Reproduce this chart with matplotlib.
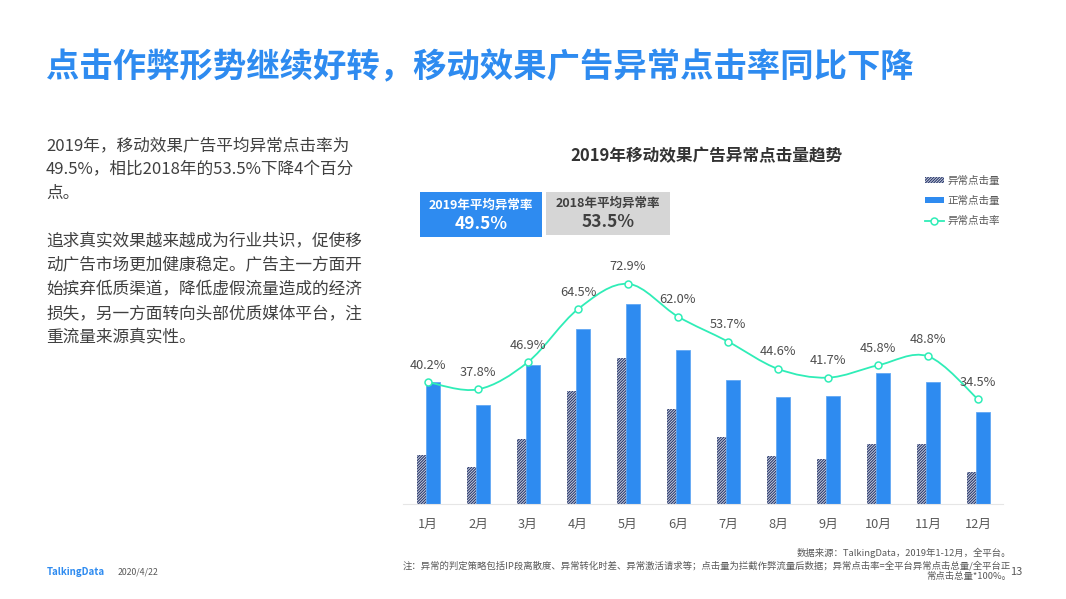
import numpy as np
import matplotlib
matplotlib.use('Agg')
import matplotlib.pyplot as plt
from matplotlib.lines import Line2D
from matplotlib.patches import PathPatch, Patch, Rectangle
from matplotlib.path import Path

plt.rcParams['font.family'] = ['Noto Sans CJK SC', 'DejaVu Sans']
plt.rcParams['hatch.linewidth'] = 0.7

months = ['1月', '2月', '3月', '4月', '5月', '6月', '7月', '8月', '9月', '10月', '11月', '12月']
# click counts have no printed scale, values are read off the bar heights
abnormal_clicks = [49, 37.3, 65.3, 112.7, 146, 95.3, 66.7, 48, 45, 59.7, 59.7, 31.7]
normal_clicks = [121.7, 99, 139, 174.7, 200.3, 154, 124, 107.3, 108, 130.7, 122.3, 91.7]
abnormal_rate = [40.2, 37.8, 46.9, 64.5, 72.9, 62.0, 53.7, 44.6, 41.7, 45.8, 48.8, 34.5]

left_text = [
    (150, '2019年，移动效果广告平均异常点击率为'),
    (174, '49.5%，相比2018年的53.5%下降4个百分'),
    (198, '点。'),
    (246, '追求真实效果越来越成为行业共识，促使移'),
    (270, '动广告市场更加健康稳定。广告主一方面开'),
    (294, '始摈弃低质渠道，降低虚假流量造成的经济'),
    (318, '损失，另一方面转向头部优质媒体平台，注'),
    (342, '重流量来源真实性。'),
]
notes = [
    (556, '数据来源：TalkingData，2019年1-12月，全平台。'),
    (568, '注：异常的判定策略包括IP段离散度、异常转化时差、异常激活请求等；点击量为拦截作弊流量后数据；异常点击率=全平台异常点击总量/全平台正'),
    (579, '常点击总量*100%。'),
]

W, H = 1066, 599
BLUE = '#2E8BF0'
MINT = '#2FEDB7'
GRAY = '#595959'


def put_text(px, py, s, **kw):
    kw.setdefault('va', 'baseline')
    return fig.text(px / W, 1 - py / H, s, **kw)


def smooth_path(x, y):
    # Catmull-Rom as bezier, same look as the smoothed office line
    x = np.array(x, dtype=float)
    y = np.array(y, dtype=float)
    verts = [(x[0], y[0])]
    codes = [Path.MOVETO]
    for i in range(len(x) - 1):
        i0 = max(i - 1, 0)
        i3 = min(i + 2, len(x) - 1)
        verts.append((x[i] + (x[i + 1] - x[i0]) / 6, y[i] + (y[i + 1] - y[i0]) / 6))
        verts.append((x[i + 1] - (x[i3] - x[i]) / 6, y[i + 1] - (y[i3] - y[i]) / 6))
        verts.append((x[i + 1], y[i + 1]))
        codes += [Path.CURVE4] * 3
    return Path(verts, codes)


fig = plt.figure(figsize=(W / 100, H / 100), dpi=100, facecolor='white')

put_text(46, 77, '点击作弊形势继续好转，移动效果广告异常点击率同比下降',
         fontsize=24, fontweight='bold', color=BLUE)
for py, line in left_text:
    put_text(46, py, line, fontsize=12, color='#404040')

put_text(706, 161, '2019年移动效果广告异常点击量趋势', fontsize=12, fontweight='bold',
         color='#333333', ha='center')

# the two average boxes
fig.patches.append(Rectangle((420 / W, 1 - 237 / H), 122 / W, 45 / H, transform=fig.transFigure,
                             facecolor=BLUE, edgecolor='none'))
fig.patches.append(Rectangle((546 / W, 1 - 235 / H), 124 / W, 43 / H, transform=fig.transFigure,
                             facecolor='#D6D6D6', edgecolor='none'))
put_text(481, 209, '2019年平均异常率', fontsize=9, fontweight='bold', color='white', ha='center')
put_text(481, 229, '49.5%', fontsize=12.5, fontweight='bold', color='white', ha='center')
put_text(608, 207, '2018年平均异常率', fontsize=9, fontweight='bold', color='#404040', ha='center')
put_text(608, 227, '53.5%', fontsize=12.5, fontweight='bold', color='#404040', ha='center')

ax = fig.add_axes([403 / W, 1 - 504 / H, 600 / W, 250 / H])
ax.patch.set_alpha(0)
x = np.arange(len(months))
ax.bar(x - 0.079, abnormal_clicks, width=0.27, facecolor='#C9CEDC', edgecolor='#1F2F66',
       hatch='////////////', linewidth=0)
ax.bar(x + 0.103, normal_clicks, width=0.274, color=BLUE, edgecolor='#62A8F4', linewidth=0.6)
ax.set_xlim(-0.5, 11.5)
ax.set_ylim(0, 250)
ax.set_xticks(x, months)
ax.set_yticks([])
ax.tick_params(axis='x', length=0, pad=10, labelsize=9.2, labelcolor=GRAY)
for name in ['top', 'left', 'right']:
    ax.spines[name].set_visible(False)
ax.spines['bottom'].set_color('#E6E6E6')
ax.spines['bottom'].set_linewidth(0.8)

ax2 = ax.twinx()
ax2.set_ylim(-0.333, 82.83)
ax2.set_yticks([])
for name in ax2.spines:
    ax2.spines[name].set_visible(False)
ax2.add_patch(PathPatch(smooth_path(x, abnormal_rate), facecolor='none', edgecolor=MINT, linewidth=1.3))
ax2.plot(x, abnormal_rate, linestyle='none', marker='o', markersize=5, markerfacecolor='white',
         markeredgecolor=MINT, markeredgewidth=1.1)
for xi, rate in zip(x, abnormal_rate):
    ax2.annotate(f'{rate:.1f}%', (xi, rate), xytext=(0, 12.2), textcoords='offset points',
                 ha='center', va='center', fontsize=9.2, color='#4D4D4D')

handles = [
    Patch(facecolor='#C9CEDC', edgecolor='#1F2F66', hatch='////////////', linewidth=0),
    Patch(facecolor=BLUE, edgecolor='none'),
    Line2D([], [], color=MINT, linewidth=1.3, marker='o', markersize=5, markerfacecolor='white',
           markeredgecolor=MINT, markeredgewidth=1.1),
]
fig.legend(handles, ['异常点击量', '正常点击量', '异常点击率'], loc='center left',
           bbox_to_anchor=(915 / W, 1 - 201 / H), frameon=False, fontsize=7.6, labelcolor=GRAY,
           handlelength=1.85, handleheight=0.5, handletextpad=0.35, labelspacing=0.98)

for py, line in notes:
    put_text(1011, py, line, fontsize=6.75, color=GRAY, ha='right', style='italic')
put_text(1016, 575, '13', fontsize=8, color=GRAY, ha='center')
put_text(47, 575, 'TalkingData', fontsize=7, fontweight='bold', color=BLUE)
put_text(118, 575, '2020/4/22', fontsize=6.3, color=GRAY)

fig.savefig('out.png', dpi=100)
